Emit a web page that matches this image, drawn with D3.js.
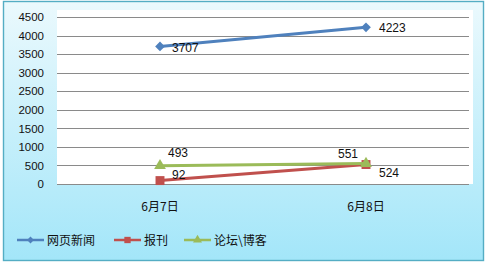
<!DOCTYPE html>
<html><head><meta charset="utf-8">
<script src="https://cdn.jsdelivr.net/npm/d3@7"></script>
<style>
html,body{margin:0;padding:0;background:#fff;}
text{font-family:"Liberation Sans","Noto Sans CJK SC",sans-serif;font-size:12px;fill:#111;}
</style></head>
<body><svg id="c" width="486" height="265"></svg>
<script>
const categories = ["6月7日", "6月8日"];
const seriesNames = ["网页新闻", "报刊", "论坛\\博客"];
const webNews = [3707, 4223];
const newspaper = [92, 524];
const forumBlog = [493, 551];
const yTicks = [0, 500, 1000, 1500, 2000, 2500, 3000, 3500, 4000, 4500];

(function(){
const colors = ["#4F81BD", "#C0504D", "#9BBB59"];
const series = [
  {name: seriesNames[0], values: webNews, color: colors[0], marker: d3.symbolDiamond2, size: 60, lsize: 30, labelPos: [[12,5.5],[13,5]]},
  {name: seriesNames[1], values: newspaper, color: colors[1], marker: d3.symbolSquare, size: 80, lsize: 40, labelPos: [[12,-2],[13,12.5]]},
  {name: seriesNames[2], values: forumBlog, color: colors[2], marker: d3.symbolTriangle, size: 60, lsize: 35, labelPos: [[8,-8.7],[-28,-5.6]]}
];

const svg = d3.select("#c");
const defs = svg.append("defs");
const g1 = defs.append("linearGradient").attr("id","bg").attr("x1",0).attr("y1",0).attr("x2",0).attr("y2",1);
g1.append("stop").attr("offset","0%").attr("stop-color","#ebf9fd");
g1.append("stop").attr("offset","100%").attr("stop-color","#a3e6f9");

svg.append("rect").attr("x",3.5).attr("y",1.5).attr("width",480).attr("height",259)
  .attr("fill","url(#bg)").attr("stroke","#54adc4").attr("stroke-width",1.4);

const pl = 57, pr = 469, pt = 17, pb = 184;
svg.append("rect").attr("x",pl).attr("y",10).attr("width",473-pl).attr("height",pb-10).attr("fill","#fff");

const x = d3.scaleBand().domain(categories).range([pl, pr]);
const y = d3.scaleLinear().domain([0, 4500]).range([pb, pt]);

svg.append("g").selectAll("line").data(yTicks).join("line")
  .attr("x1",pl).attr("x2",pr)
  .attr("y1",d=>Math.round(y(d))+0.5).attr("y2",d=>Math.round(y(d))+0.5)
  .attr("stroke","#8a8a8a").attr("stroke-width",1);

const yAxis = d3.axisLeft(y).tickValues(yTicks).tickFormat(d3.format("d")).tickSize(0).tickPadding(0);
const ya = svg.append("g").attr("transform",`translate(${pl-13},0)`).call(yAxis);
ya.select(".domain").remove();
ya.selectAll("text").style("font-size","11.5px").attr("fill","#111");

const xAxis = d3.axisBottom(x).tickSize(0).tickPadding(0);
const xa = svg.append("g").attr("transform",`translate(0,${pb+18})`).call(xAxis);
xa.select(".domain").remove();
xa.selectAll("text").style("font-size","12px").style("font-family","'Noto Sans CJK SC',sans-serif").attr("fill","#111");

const cx = c => x(c) + x.bandwidth()/2;
const line = d3.line().x((d,i)=>cx(categories[i])).y(d=>y(d));

series.forEach(s=>{
  svg.append("path").datum(s.values).attr("d",line).attr("fill","none")
    .attr("stroke",s.color).attr("stroke-width",3);
  svg.append("g").selectAll("path").data(s.values).join("path")
    .attr("transform",(d,i)=>`translate(${cx(categories[i])},${y(d)})`)
    .attr("d",d3.symbol().type(s.marker).size(s.size)).attr("fill",s.color);
});

series.forEach(s=>{
  s.values.forEach((v,i)=>{
    const px = cx(categories[i]), py = y(v);
    const o = s.labelPos[i];
    svg.append("text").attr("x",px+o[0]).attr("y",py+o[1]).text(v);
  });
});

const legendX = [17, 114, 184];
series.forEach((s,i)=>{
  const lx = legendX[i], ly = 240;
  svg.append("line").attr("x1",lx).attr("x2",lx+27).attr("y1",ly).attr("y2",ly)
    .attr("stroke",s.color).attr("stroke-width",2.5);
  svg.append("path").attr("transform",`translate(${lx+13.5},${ly})`)
    .attr("d",d3.symbol().type(s.marker).size(s.lsize)).attr("fill",s.color);
  svg.append("text").attr("x",lx+30).attr("y",ly+4.5).style("font-family","'Noto Sans CJK SC',sans-serif").style("font-size","12px").text(s.name);
});
})();
</script></body></html>
